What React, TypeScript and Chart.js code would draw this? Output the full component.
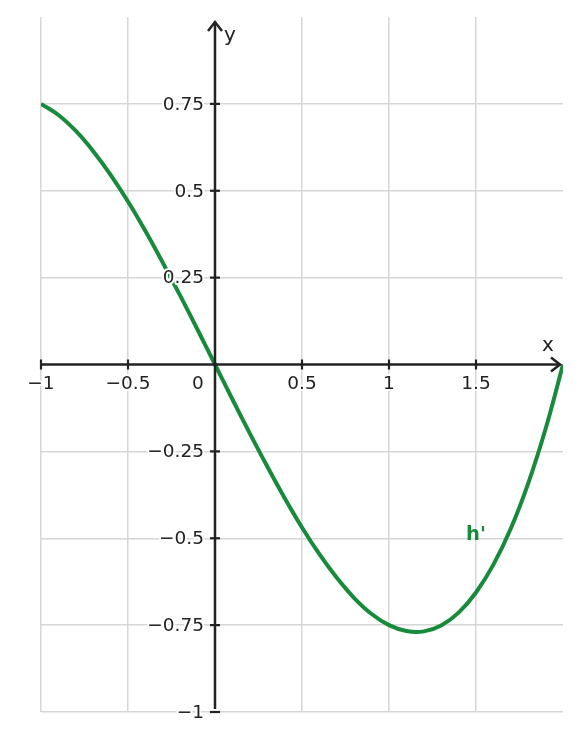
import { useEffect, useRef } from "react"
import { Chart, registerables } from "chart.js"

Chart.register(...registerables)

// curve h'
const xValues = [
  -1, -0.9, -0.8, -0.7, -0.6, -0.5, -0.4, -0.3, -0.2, -0.1, 0, 0.1, 0.2, 0.3, 0.4, 0.5, 0.6, 0.7, 0.8, 0.9, 1,
  1.1, 1.2, 1.3, 1.4, 1.5, 1.6, 1.7, 1.8, 1.9, 2,
]
const yValues = [
  0.75, 0.718, 0.672, 0.614, 0.546, 0.469, 0.384, 0.293, 0.198, 0.1, 0, -0.1, -0.198, -0.293, -0.384, -0.469,
  -0.546, -0.614, -0.672, -0.718, -0.75, -0.767, -0.768, -0.751, -0.714, -0.656, -0.576, -0.472, -0.342, -0.185, 0,
]
const xTicks = [-1, -0.5, 0, 0.5, 1, 1.5]
const yTicks = [0.75, 0.5, 0.25, -0.25, -0.5, -0.75, -1]

const GREEN = "#178a3c"
const INK = "#222222"
const FONT = "DejaVu Sans"

const fmt = (v: number) => (v < 0 ? "\u2212" + String(-v) : String(v))

const axesPlugin = {
  id: "centerAxes",
  afterDatasetsDraw(chart: Chart) {
    const { ctx, scales } = chart
    const xs = scales.x
    const ys = scales.y
    const x0 = xs.getPixelForValue(0)
    const y0 = ys.getPixelForValue(0)
    const left = xs.getPixelForValue(-1)
    const right = xs.getPixelForValue(2) - 3
    const bottom = ys.getPixelForValue(-1) - 3
    const top = ys.getPixelForValue(1) + 5

    ctx.save()
    ctx.strokeStyle = INK
    ctx.lineWidth = 2.5
    ctx.lineCap = "butt"
    // x axis
    ctx.beginPath()
    ctx.moveTo(left, y0)
    ctx.lineTo(right, y0)
    ctx.stroke()
    // y axis
    ctx.beginPath()
    ctx.moveTo(x0, bottom)
    ctx.lineTo(x0, top)
    ctx.stroke()
    // arrow heads
    ctx.lineJoin = "miter"
    ctx.beginPath()
    ctx.moveTo(right - 9, y0 - 7)
    ctx.lineTo(right, y0)
    ctx.lineTo(right - 9, y0 + 7)
    ctx.stroke()
    ctx.beginPath()
    ctx.moveTo(x0 - 7, top + 9)
    ctx.lineTo(x0, top)
    ctx.lineTo(x0 + 7, top + 9)
    ctx.stroke()

    // tick marks
    ctx.lineWidth = 2.2
    xTicks.forEach((v) => {
      if (v === 0) return
      const px = xs.getPixelForValue(v)
      ctx.beginPath()
      ctx.moveTo(px, y0 - 5)
      ctx.lineTo(px, y0 + 5)
      ctx.stroke()
    })
    yTicks.forEach((v) => {
      const py = ys.getPixelForValue(v)
      ctx.beginPath()
      ctx.moveTo(x0 - 5, py)
      ctx.lineTo(x0 + 5, py)
      ctx.stroke()
    })

    // tick labels with white halo
    ctx.font = `18.5px '${FONT}'`
    ctx.fillStyle = INK
    ctx.strokeStyle = "#ffffff"
    ctx.lineWidth = 4
    ctx.lineJoin = "round"
    ctx.textBaseline = "middle"
    ctx.textAlign = "center"
    xTicks.forEach((v) => {
      const px = v === 0 ? x0 - 17 : xs.getPixelForValue(v)
      const t = fmt(v)
      ctx.strokeText(t, px, y0 + 20)
      ctx.fillText(t, px, y0 + 20)
    })
    ctx.textAlign = "right"
    yTicks.forEach((v) => {
      const py = ys.getPixelForValue(v) + 1
      const t = fmt(v)
      ctx.strokeText(t, x0 - 11, py)
      ctx.fillText(t, x0 - 11, py)
    })

    // axis names
    ctx.font = `20px '${FONT}'`
    ctx.textAlign = "center"
    ctx.fillText("x", xs.getPixelForValue(2) - 15, y0 - 19)
    ctx.fillText("y", x0 + 15, top + 14)

    // curve label
    ctx.font = `bold 19.5px '${FONT}'`
    ctx.fillStyle = GREEN
    ctx.fillText("h'", xs.getPixelForValue(1.5), ys.getPixelForValue(-0.49))
    ctx.restore()
  },
}

export default function App() {
  const chartRef = useRef<HTMLCanvasElement>(null)
  const chartInstance = useRef<Chart | null>(null)

  useEffect(() => {
    document.body.style.margin = "0"
    if (!chartRef.current) return
    if (chartInstance.current) chartInstance.current.destroy()
    const ctx = chartRef.current.getContext("2d")
    if (!ctx) return

    chartInstance.current = new Chart(ctx, {
      type: "line",
      data: {
        datasets: [
          {
            label: "h'",
            data: xValues.map((x, i) => ({ x, y: yValues[i] })),
            borderColor: GREEN,
            borderWidth: 4,
            pointRadius: 0,
            tension: 0.4,
            fill: false,
          },
        ],
      },
      options: {
        animation: false,
        responsive: false,
        maintainAspectRatio: false,
        layout: { padding: { left: 41, right: 18, top: 17, bottom: 29 } },
        plugins: {
          legend: { display: false },
          tooltip: { enabled: false },
        },
        scales: {
          x: {
            type: "linear",
            min: -1,
            max: 2,
            ticks: { stepSize: 0.5, display: false },
            border: { display: false },
            grid: {
              drawTicks: false,
              lineWidth: 1.5,
              color: (c: any) => (c.tick && (c.tick.value === 2 || c.tick.value === 0) ? "rgba(0,0,0,0)" : "#d6d6d6"),
            },
          },
          y: {
            type: "linear",
            min: -1,
            max: 1,
            ticks: { stepSize: 0.25, display: false },
            border: { display: false },
            grid: {
              drawTicks: false,
              lineWidth: 1.5,
              color: (c: any) => (c.tick && (c.tick.value === 1 || c.tick.value === 0) ? "rgba(0,0,0,0)" : "#d6d6d6"),
            },
          },
        },
      },
      plugins: [axesPlugin],
    })

    return () => {
      if (chartInstance.current) {
        chartInstance.current.destroy()
        chartInstance.current = null
      }
    }
  }, [])

  return (
    <div style={{ width: 581, height: 741, background: "#ffffff" }}>
      <canvas ref={chartRef} width={581} height={741} style={{ width: 581, height: 741 }} />
    </div>
  )
}
